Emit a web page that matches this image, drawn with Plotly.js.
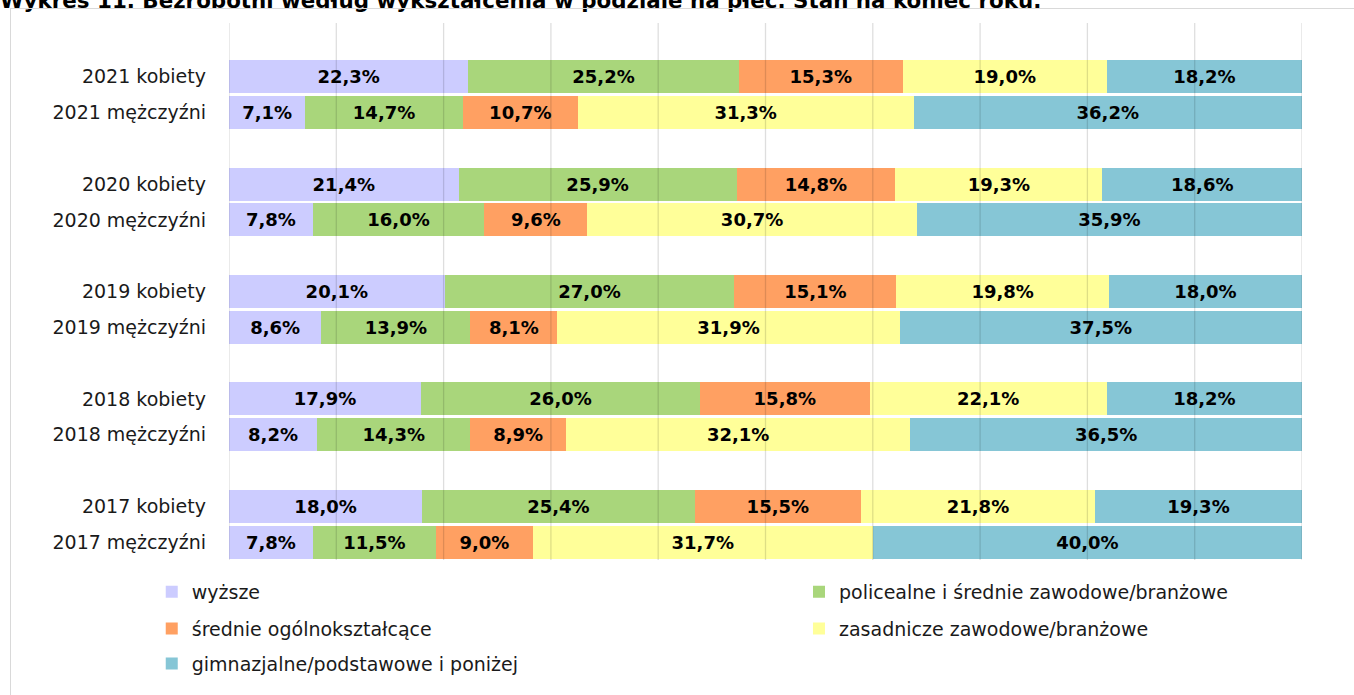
<!DOCTYPE html>
<html>
<head>
<meta charset="utf-8">
<script src="https://cdn.plot.ly/plotly-3.0.1.min.js"></script>
<style>
  html, body { margin: 0; padding: 0; overflow: hidden; background: #fff; }
  #chart { width: 1354px; height: 695px; position: absolute; left: 0; top: 0; }
  #frame { position: absolute; left: 10px; top: 8px; width: 2000px; height: 2000px;
           border: 1px solid #d9d9d9; pointer-events: none; }
</style>
</head>
<body>
<div id="chart"></div>
<div id="frame"></div>
<script>
// ---- data ----
const titleText = 'Wykres 11. Bezrobotni według wykształcenia w podziale na płeć. Stan na koniec roku.';
const years = ['2017', '2018', '2019', '2020', '2021'];
const womenLabel = 'kobiety';
const menLabel = 'mężczyźni';

const seriesNames = [
  'wyższe',
  'policealne i średnie zawodowe/branżowe',
  'średnie ogólnokształcące',
  'zasadnicze zawodowe/branżowe',
  'gimnazjalne/podstawowe i poniżej'
];
const seriesColors = ['#ccccff', '#a9d67b', '#ffa062', '#ffff99', '#86c6d6'];

// values by year 2017..2021
const wyzszeK       = [18.0, 17.9, 20.1, 21.4, 22.3];
const wyzszeM       = [7.8, 8.2, 8.6, 7.8, 7.1];
const policealneK   = [25.4, 26.0, 27.0, 25.9, 25.2];
const policealneM   = [11.5, 14.3, 13.9, 16.0, 14.7];
const srednieK      = [15.5, 15.8, 15.1, 14.8, 15.3];
const srednieM      = [9.0, 8.9, 8.1, 9.6, 10.7];
const zasadniczeK   = [21.8, 22.1, 19.8, 19.3, 19.0];
const zasadniczeM   = [31.7, 32.1, 31.9, 30.7, 31.3];
const gimnazjalneK  = [19.3, 18.2, 18.0, 18.6, 18.2];
const gimnazjalneM  = [40.0, 36.5, 37.5, 35.9, 36.2];

const womenSeries = [wyzszeK, policealneK, srednieK, zasadniczeK, gimnazjalneK];
const menSeries   = [wyzszeM, policealneM, srednieM, zasadniczeM, gimnazjalneM];

// ---- categories (with empty spacer slots between years) ----
const categoryOrder = [];
years.forEach((y, i) => {
  categoryOrder.push(y + ' ' + menLabel);
  categoryOrder.push(y + ' ' + womenLabel);
  categoryOrder.push(' '.repeat(i + 1));
});

const legendIds = ['legend', 'legend2', 'legend3', 'legend4', 'legend5'];

const traces = seriesNames.map((name, s) => {
  const yv = [], xv = [];
  years.forEach((y, i) => {
    yv.push(y + ' ' + womenLabel); xv.push(womenSeries[s][i]);
    yv.push(y + ' ' + menLabel);   xv.push(menSeries[s][i]);
  });
  return {
    type: 'bar', orientation: 'h', name: name,
    x: xv, y: yv,
    marker: { color: seriesColors[s], line: { width: 0 } },
    texttemplate: '%{x:.1f}%',
    textposition: 'inside',
    insidetextanchor: 'middle',
    textangle: 0,
    constraintext: 'none',
    textfont: { family: 'DejaVu Sans', size: 18, color: '#000', weight: 'bold' },
    hoverinfo: 'skip',
    legend: legendIds[s]
  };
});

// gridlines drawn above bars (as in the original)
const gridShapes = [];
for (let v = 0; v <= 100; v += 10) {
  gridShapes.push({
    type: 'line', xref: 'x', yref: 'paper', x0: v, x1: v, y0: 0, y1: 1,
    layer: 'above', line: { color: 'rgba(0,0,0,0.13)', width: 1.3 }
  });
}

// legend grid: two columns, three rows
const colX = [-0.072, 0.5312];
const rowY = [-0.0594, -0.128, -0.193];
function legendAt(col, row) {
  return {
    orientation: 'h', xref: 'paper', yref: 'paper', x: colX[col], xanchor: 'left',
    y: rowY[row], yanchor: 'middle',
    font: { family: 'DejaVu Sans', size: 19, color: '#1a1a1a' },
    bgcolor: 'rgba(0,0,0,0)'
  };
}

const layout = {
  width: 1354, height: 695,
  margin: { l: 229, r: 52, t: 23, b: 133, pad: 0 },
  paper_bgcolor: '#fff', plot_bgcolor: '#fff',
  separators: ', ',
  barmode: 'stack', bargap: 0.08,
  showlegend: true,
  title: {
    text: titleText, xref: 'container', yref: 'container', x: 0, xanchor: 'left',
    y: 1, yanchor: 'middle', pad: { t: 0, b: 0, l: 0, r: 0 },
    font: { family: 'DejaVu Sans', size: 21.4, color: '#000', weight: 'bold' }
  },
  xaxis: { range: [0, 100], showgrid: false, zeroline: false, showticklabels: false,
           ticks: '', showline: false, fixedrange: true },
  yaxis: { type: 'category', categoryorder: 'array', categoryarray: categoryOrder,
           range: [-0.5, categoryOrder.length - 0.5], showgrid: false, zeroline: false,
           ticks: '', showline: false, ticklabelstandoff: 22, fixedrange: true,
           tickfont: { family: 'DejaVu Sans', size: 19, color: '#1a1a1a' } },
  shapes: gridShapes,
  legend:  legendAt(0, 0),
  legend2: legendAt(1, 0),
  legend3: legendAt(0, 1),
  legend4: legendAt(1, 1),
  legend5: legendAt(0, 2)
};

Plotly.newPlot('chart', traces, layout, { displayModeBar: false, staticPlot: true });
</script>
</body>
</html>
